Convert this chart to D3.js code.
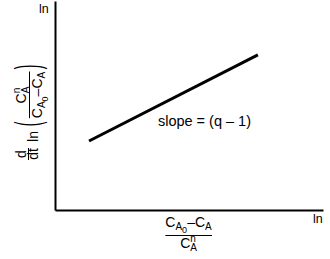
<!DOCTYPE html>
<html>
<head>
<meta charset="utf-8">
<script src="https://cdn.jsdelivr.net/npm/d3@7"></script>
<style>
  html, body { margin: 0; padding: 0; background: #fff; }
  svg { display: block; }
  text { font-family: 'Liberation Sans', Arial, Helvetica, sans-serif; fill: #000; }
</style>
</head>
<body>
<div id="chart"></div>
<script>
'use strict';

// x and y of the two ends of the straight line (arbitrary log units)
var lineX = [ 1.27, 7.57 ];
var lineY = [ 3.30, 7.42 ];
var xDomain = [ 0, 10 ];
var yDomain = [ 0, 10 ];
var axisEndLabel = 'ln';
var slopeLabel = 'slope = (q \u2013 1)';

var baseWidth = 330,
    baseHeight = 259,
    margin = { top: 1, right: 7, bottom: 49, left: 55 };

var width = baseWidth - margin.left - margin.right,
    height = baseHeight - margin.top - margin.bottom;

var x = d3.scaleLinear().domain( xDomain ).range( [ 0, width ] );
var y = d3.scaleLinear().domain( yDomain ).range( [ height, 0 ] );

var svg = d3.select( '#chart' )
  .append( 'svg' )
    .attr( 'width', baseWidth )
    .attr( 'height', baseHeight );

var g = svg.append( 'g' )
    .attr( 'transform', 'translate(' + margin.left + ',' + margin.top + ')' );

// plain axes, no ticks
g.append( 'g' )
    .attr( 'transform', 'translate(0,' + height + ')' )
    .call( d3.axisBottom( x ).tickValues( [] ).tickSizeOuter( 0 ) )
  .select( '.domain' )
    .attr( 'stroke', '#000' )
    .attr( 'stroke-width', 2 );

g.append( 'g' )
    .call( d3.axisLeft( y ).tickValues( [] ).tickSizeOuter( 0 ) )
  .select( '.domain' )
    .attr( 'stroke', '#000' )
    .attr( 'stroke-width', 2 );

var pts = lineX.map( function( d, i ) { return { x: d, y: lineY[ i ] }; } );

g.append( 'path' )
    .datum( pts )
    .attr( 'fill', 'none' )
    .attr( 'stroke', '#000' )
    .attr( 'stroke-width', 3 )
    .attr( 'd', d3.line()
      .x( function( d ) { return x( d.x ); } )
      .y( function( d ) { return y( d.y ); } ) );

g.append( 'text' )
    .attr( 'x', x( 3.84 ) )
    .attr( 'y', y( 4.0 ) )
    .style( 'font-size', '14.5px' )
    .text( slopeLabel );

// "ln" at the end of each axis
svg.append( 'text' )
    .attr( 'x', 39 )
    .attr( 'y', 13 )
    .style( 'font-size', '12.5px' )
    .text( axisEndLabel );

svg.append( 'text' )
    .attr( 'x', 313 )
    .attr( 'y', 223 )
    .style( 'font-size', '12.5px' )
    .text( axisEndLabel );

// helper: text made of runs [ str, fontSize, dy, dx ]
function runs( parent, px, py, parts, anchor ) {
  var t = parent.append( 'text' )
      .attr( 'x', px )
      .attr( 'y', py )
      .attr( 'text-anchor', anchor || 'middle' );
  parts.forEach( function( p ) {
    t.append( 'tspan' )
        .style( 'font-size', p[ 1 ] + 'px' )
        .attr( 'dy', p[ 2 ] || 0 )
        .attr( 'dx', p[ 3 ] || 0 )
        .text( p[ 0 ] );
  } );
  return t;
}

function rule( parent, x1, x2, yy ) {
  parent.append( 'line' )
      .attr( 'x1', x1 ).attr( 'x2', x2 )
      .attr( 'y1', yy ).attr( 'y2', yy )
      .attr( 'stroke', '#000' ).attr( 'stroke-width', 1 );
}

// x label: (C_A0 - C_A) / C_A^n
var xl = svg.append( 'g' ).attr( 'transform', 'translate(188.5,235)' );
var num = runs( xl, 0, -8, [
  [ 'C', 14 ], [ 'A', 10, 3 ], [ '0', 9, 3 ], [ '\u2013C', 14, -6 ], [ 'A', 10, 3 ]
] );
var nb = num.node().getBBox();
rule( xl, nb.x, nb.x + nb.width, 0.5 );
runs( xl, 0, 13, [
  [ 'C', 14 ], [ 'n', 10, -6 ], [ 'A', 10, 9, -5.6 ]
] );

// y label: d/dt ln( C_A^n / (C_A0 - C_A) ), rotated
var yl = svg.append( 'g' ).attr( 'transform', 'rotate(-90)' );

runs( yl, -154, 26, [ [ 'd', 14 ] ] );
rule( yl, -160, -148, 28.5 );
runs( yl, -154, 38, [ [ 'dt', 14 ] ] );
runs( yl, -136.5, 38, [ [ 'ln', 14 ] ] );

function bigParen( ch, cx ) {
  yl.append( 'g' )
      .attr( 'transform', 'translate(' + cx + ',31) scale(1,2.5)' )
    .append( 'text' )
      .attr( 'text-anchor', 'middle' )
      .attr( 'y', 3.6 )
      .style( 'font-size', '14px' )
      .text( ch );
}
bigParen( '(', -124 );
bigParen( ')', -67 );

runs( yl, -95, 26, [
  [ 'C', 14 ], [ 'n', 10, -6 ], [ 'A', 10, 9, -5.6 ]
] );
var yd = runs( yl, -95, 42, [
  [ 'C', 14 ], [ 'A', 10, 3 ], [ '0', 9, 3 ], [ '\u2013C', 14, -6 ], [ 'A', 10, 3 ]
] );
var db = yd.node().getBBox();
rule( yl, db.x, db.x + db.width, 29.5 );
</script>
</body>
</html>
